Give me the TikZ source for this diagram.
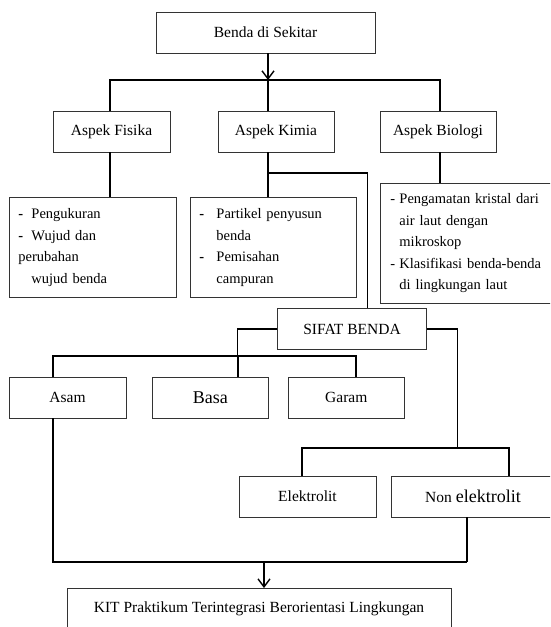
\documentclass[tikz,border=0pt]{standalone}
\usepackage{fontspec}
\setmainfont{Liberation Serif}
\usetikzlibrary{arrows.meta}

\begin{document}
\begin{tikzpicture}[x=1pt,y=-1pt,
  block/.style={rectangle,draw=black!80,line width=0.9pt,inner sep=0pt,text centered,minimum height=41pt,font=\fontsize{15.5}{18}\selectfont},
  listblock/.style={rectangle,draw=black!80,line width=0.9pt,inner xsep=9pt,inner ysep=0pt,align=left,anchor=north west,font=\fontsize{14.5}{21.5}\selectfont},
  link/.style={line width=2pt},
  thinlink/.style={line width=1.4pt},
  >={Straight Barb[length=8pt,width=12pt,line width=1.4pt]}]
\def\rowA{131.5}
\def\rowB{397.5}
\def\rowC{496.5}
\clip (0,0) rectangle (550,627);
  %\draw[help lines,step=50] (0,0) grid (550,627);
\node[block,minimum width=219pt] (benda) at (265.5,32.5) {Benda di Sekitar};
\node[block,minimum width=117pt] (fisika) at (111.5,\rowA) {Aspek Fisika};
\node[block,minimum width=116pt] (kimia) at (276,\rowA) {Aspek Kimia};
\node[block,minimum width=116pt] (biologi) at (438,\rowA) {Aspek Biologi};

\node[listblock,text width=149pt,minimum height=100pt] (fisdet) at (9,197)
  {\makebox[13pt][l]{\textbf{-}}Pengukuran\\\makebox[13pt][l]{\textbf{-}}Wujud dan\\perubahan\\\hspace*{13pt}wujud benda};
\node[listblock,text width=148pt,minimum height=100pt] (kimdet) at (190,197)
  {\makebox[17pt][l]{\textbf{-}}Partikel penyusun\\\hspace*{17pt}benda\\\makebox[17pt][l]{\textbf{-}}Pemisahan\\\hspace*{17pt}campuran};
\node[listblock,inner xsep=10pt,text width=160pt,minimum height=120pt] (biodet) at (380,183)
  {\makebox[9pt][l]{-}Pengamatan kristal dari\\\hspace*{9pt}air laut dengan\\\hspace*{9pt}mikroskop\\\makebox[9pt][l]{-}Klasifikasi benda-benda\\\hspace*{9pt}di lingkungan laut};

\node[block,minimum width=149pt] (sifat) at (352,329) {SIFAT BENDA};
\node[block,minimum width=117pt] (asam) at (67.5,\rowB) {Asam};
\node[block,minimum width=116pt] (basa) at (210.3,\rowB) {\fontsize{18}{20}\selectfont Basa};
\node[block,minimum width=116pt] (garam) at (346.3,\rowB) {Garam};
\node[block,minimum width=137pt] (elektro) at (307.5,\rowC) {Elektrolit};
\node[block,minimum width=164pt] (nonelektro) at (473,\rowC) {Non {\fontsize{18}{20}\selectfont elektrolit}};
\node[block,minimum width=384pt] (kit) at (259,609) {KIT Praktikum Terintegrasi Berorientasi Lingkungan};

\coordinate (topbar) at (268,80);
\coordinate (kimbranch) at (268,173);
\coordinate (sifin) at (367.3,173);
\coordinate (sifleft) at (237.7,356);
\coordinate (asamline) at (52.5,356);
\coordinate (garamline) at (356,356);
\coordinate (sifright) at (457.5,448);
\coordinate (eline) at (302,448);
\coordinate (nline) at (509,448);
\coordinate (botleft) at (52.5,562);
\coordinate (botright) at (467,562);
\coordinate (botmid) at (264,562);

\draw[link,->] (benda.south -| topbar) -- (topbar);
\begin{scope}[every path/.style=link]
\draw (fisika.north -| 110,0) |- (topbar) -| (biologi.north -| 440,0);
\draw (topbar) -- (topbar |- kimia.north);
\draw (fisika.south -| 110,0) -- (fisdet.north -| 110,0);
\draw (kimia.south -| topbar) -- (kimdet.north -| topbar);
\draw (biologi.south -| 440,0) -- (biodet.north -| 440,0);
\draw (asamline |- asam.north) |- (garamline) -- (garamline |- garam.north);
\draw (sifleft) -- (sifleft |- basa.north);
\draw (eline |- elektro.north) |- (nline) -- (nline |- nonelektro.north);
\draw (asamline |- asam.south) -- (botleft) -- (botright);
\end{scope}
\begin{scope}[every path/.style=thinlink]
\draw (kimbranch) -- (sifin) -- (sifin |- sifat.north);
\draw (sifat.west) -| (sifleft);
\draw (sifat.east) -| (sifright);
\draw (botright) -- (botright |- nonelektro.south);
\end{scope}
\draw[link,->] (botmid) -- (kit.north -| botmid);
\end{tikzpicture}
\end{document}
